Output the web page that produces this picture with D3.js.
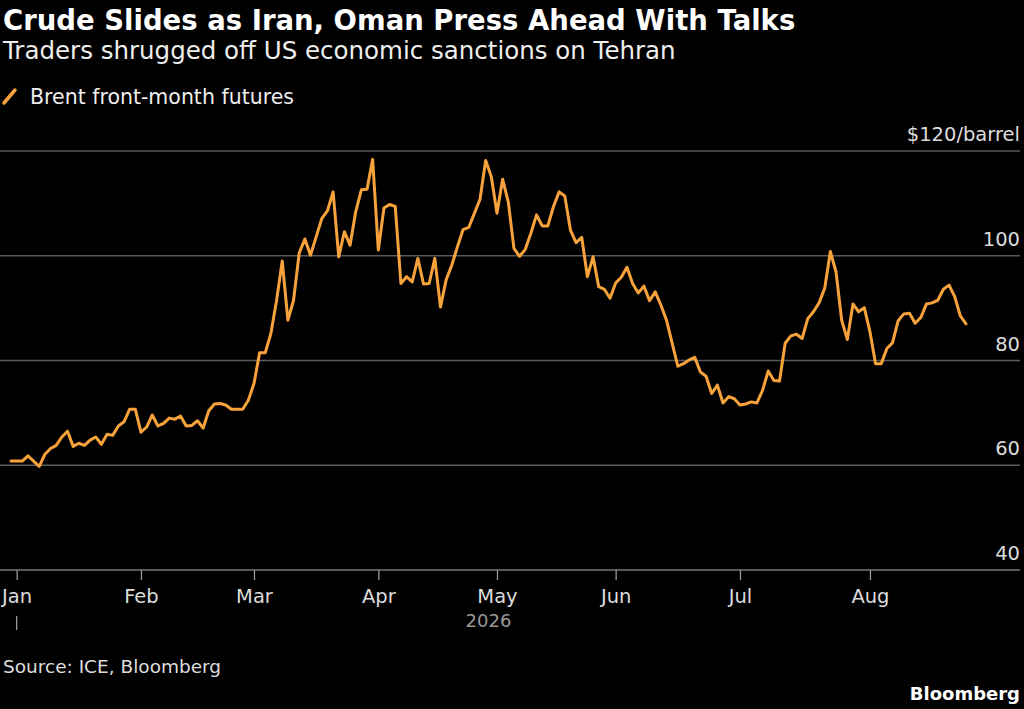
<!DOCTYPE html>
<html>
<head>
<meta charset="utf-8">
<script src="https://cdn.jsdelivr.net/npm/d3@7"></script>
<style>
  html, body { margin: 0; padding: 0; background: #000; }
  svg { display: block; }
  text { font-family: "DejaVu Sans", sans-serif; }
</style>
</head>
<body>
<div id="chart"></div>
<script>
//----------chart data---------
const title = "Crude Slides as Iran, Oman Press Ahead With Talks";
const subtitle = "Traders shrugged off US economic sanctions on Tehran";
const seriesName = "Brent front-month futures";
const source = "Source: ICE, Bloomberg";

// trading calendar: weekdays from first to last date, minus exchange holidays
const firstDay = "2025-12-31";
const lastDay = "2026-08-26";
const holidays = ["2026-04-03"];

// Brent settle, $/barrel, one per trading day
const brent = [
  60.8, 60.8, 60.8, 61.8, 60.8, 59.8, 62.1, 63.2, 63.8, 65.4,
  66.5, 63.6, 64.2, 63.8, 64.8, 65.4, 64.0, 65.9, 65.7, 67.5,
  68.3, 70.7, 70.7, 66.3, 67.3, 69.6, 67.5, 68.0, 69.0, 68.8,
  69.4, 67.5, 67.6, 68.5, 67.1, 70.4, 71.7, 71.8, 71.5, 70.7,
  70.7, 70.7, 72.4, 75.6, 81.5, 81.5, 85.2, 91.5, 99.0, 87.7,
  91.5, 100.5, 103.2, 100.1, 103.6, 107.1, 108.6, 112.2, 99.8, 104.6,
  102.0, 108.4, 112.6, 112.7, 118.4, 101.1, 109.1, 109.8, 109.4, 94.7,
  96.0, 95.0, 99.5, 94.6, 94.7, 99.5, 90.2, 95.4, 98.2, 101.7,
  105.0, 105.4, 108.1, 110.8, 118.2, 115.1, 108.1, 114.6, 110.3, 101.4,
  99.9, 101.2, 104.3, 107.8, 105.7, 105.7, 109.4, 112.2, 111.4, 104.9,
  102.5, 103.5, 96.0, 99.8, 94.1, 93.6, 91.9, 94.8, 95.9, 97.8,
  94.7, 92.9, 94.2, 91.4, 93.1, 90.6, 87.7, 83.3, 78.9, 79.4,
  80.1, 80.6, 77.8, 77.0, 73.7, 75.3, 71.9, 73.1, 72.7, 71.5,
  71.7, 72.1, 71.9, 74.3, 78.0, 76.2, 76.1, 83.3, 84.7, 85.0,
  84.2, 88.0, 89.3, 91.0, 93.8, 100.8, 96.9, 87.7, 84.0, 90.8,
  89.3, 90.1, 85.5, 79.4, 79.4, 82.3, 83.4, 87.6, 88.9, 89.0,
  87.1, 88.2, 90.8, 91.0, 91.5, 93.6, 94.4, 92.2, 88.5, 87.0
];

const yTicks = [40, 60, 80, 100, 120];
const yearLabel = "2026";

//----------layout---------
const width = 1024;
const height = 709;
const plot = { left: 11, right: 966, top: 151, bottom: 570, edge: 1020 };
const orange = "#f7a23b";

//----------build trading dates---------
const parseDay = d3.timeParse("%Y-%m-%d");
const fmtDay = d3.timeFormat("%Y-%m-%d");
let tradingDays = d3.timeDay.range(parseDay(firstDay), d3.timeDay.offset(parseDay(lastDay), 1))
  .filter(d => d.getDay() !== 0 && d.getDay() !== 6 && !holidays.includes(fmtDay(d)));

let points = brent.map((v, i) => ({ i: i, date: tradingDays[i], value: v }));

// first trading day of each calendar month in 2026 gets a tick
let monthTicks = [];
points.forEach((p, i) => {
  if (p.date.getFullYear() < 2026) return;
  if (i === 0 || p.date.getMonth() !== points[i - 1].date.getMonth()) {
    monthTicks.push(p);
  }
});

//----------scales---------
const x = d3.scaleLinear()
  .domain([0, brent.length - 1])
  .range([plot.left, plot.right]);

const y = d3.scaleLinear()
  .domain([40, 120])
  .range([plot.bottom, plot.top]);

const svg = d3.select("#chart").append("svg")
  .attr("width", width)
  .attr("height", height);

svg.append("rect")
  .attr("width", width)
  .attr("height", height)
  .attr("fill", "#000");

//----------headings---------
svg.append("text")
  .attr("x", 3).attr("y", 30)
  .attr("fill", "#fff")
  .attr("font-size", 27.5)
  .attr("font-weight", "bold")
  .text(title);

svg.append("text")
  .attr("x", 3).attr("y", 59)
  .attr("fill", "#eee")
  .attr("font-size", 24.5)
  .text(subtitle);

// legend
let legend = svg.append("g").attr("transform", "translate(0, 97)");
legend.append("line")
  .attr("x1", 4).attr("y1", 6)
  .attr("x2", 15).attr("y2", -7)
  .attr("stroke", orange)
  .attr("stroke-width", 3.5)
  .attr("stroke-linecap", "round");
legend.append("text")
  .attr("x", 30).attr("y", 7)
  .attr("fill", "#eee")
  .attr("font-size", 20.5)
  .text(seriesName);

//----------grid + y labels---------
const grid = svg.append("g");
yTicks.forEach(t => {
  if (t === 40) return; // that one is the x axis line
  grid.append("line")
    .attr("x1", 0).attr("x2", plot.edge)
    .attr("y1", y(t)).attr("y2", y(t))
    .attr("stroke", "#5a5a5a")
    .attr("stroke-width", 1.3);
});

yTicks.forEach(t => {
  grid.append("text")
    .attr("x", plot.edge)
    .attr("y", y(t) - 10)
    .attr("text-anchor", "end")
    .attr("fill", "#ddd")
    .attr("font-size", 19.5)
    .text(t === 120 ? "$" + t + "/barrel" : t);
});

//----------x axis---------
const xAxis = d3.axisBottom(x)
  .tickValues(monthTicks.map(p => p.i))
  .tickFormat(i => d3.timeFormat("%b")(points[i].date))
  .tickSize(10);

let axisG = svg.append("g")
  .attr("transform", `translate(0, ${plot.bottom})`)
  .call(xAxis);

axisG.select(".domain")
  .attr("d", `M0,0H${plot.edge}`)
  .attr("stroke", "#777")
  .attr("stroke-width", 1.5);
axisG.selectAll(".tick line")
  .attr("stroke", "#999")
  .attr("stroke-width", 1.3);
axisG.selectAll(".tick text")
  .attr("y", 33)
  .attr("dy", null)
  .attr("fill", "#ddd")
  .attr("font-size", 19.5)
  .attr("font-family", "DejaVu Sans, sans-serif");

// year row
let firstTick = monthTicks[0];
svg.append("line")
  .attr("x1", x(firstTick.i)).attr("x2", x(firstTick.i))
  .attr("y1", 616).attr("y2", 630)
  .attr("stroke", "#999")
  .attr("stroke-width", 1.3);

svg.append("text")
  .attr("x", (plot.left + plot.right) / 2)
  .attr("y", 627)
  .attr("text-anchor", "middle")
  .attr("fill", "#999")
  .attr("font-size", 18)
  .text(yearLabel);

//----------the line---------
const line = d3.line()
  .x(d => x(d.i))
  .y(d => y(d.value));

svg.append("path")
  .datum(points)
  .attr("d", line)
  .attr("fill", "none")
  .attr("stroke", orange)
  .attr("stroke-width", 3)
  .attr("stroke-linejoin", "round")
  .attr("stroke-linecap", "round");

//----------footer---------
svg.append("text")
  .attr("x", 3).attr("y", 673)
  .attr("fill", "#ddd")
  .attr("font-size", 18.5)
  .text(source);

svg.append("text")
  .attr("x", 1020).attr("y", 700)
  .attr("text-anchor", "end")
  .attr("fill", "#fff")
  .attr("font-size", 18)
  .attr("font-weight", "bold")
  .text("Bloomberg");
</script>
</body>
</html>
